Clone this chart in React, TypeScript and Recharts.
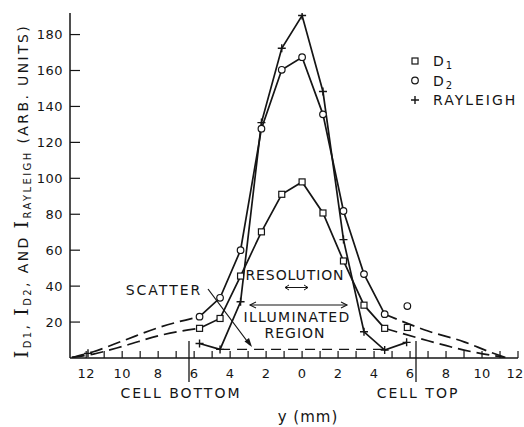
import { ComposedChart, Line, Scatter, XAxis, YAxis, Legend, Customized } from "recharts";

// ---------------------------------------------------------------------------
// Fluorescence (D1, D2) and Rayleigh intensity profiles across the cell,
// redrawn from the scanned figure. Axis is y in mm; labels show |y| on both
// sides of the centre (cell bottom on the left, cell top on the right).
// ---------------------------------------------------------------------------

const INK = "#151515";
const FONT = "'DejaVu Sans', sans-serif";

// measured points (mm across the cell)
const positions = [-5.7, -4.56, -3.42, -2.26, -1.13, 0, 1.16, 2.3, 3.44, 4.59];
const d1Values = [16.5, 22, 45.6, 70.2, 91.1, 98, 80.7, 54, 29.4, 16.5];
const d2Values = [23, 33.5, 60, 127.6, 160.4, 167.4, 135.6, 81.8, 46.7, 24.4];
const rayleighPositions = [...positions, 5.81];
const rayleighValues = [8.1, 4.8, 31.3, 131, 172.4, 190.6, 148.3, 65.9, 14.6, 4.4, 8.7];

// dashed extrapolation out to the cell walls
const leftTailPositions = [-12.8, -11.6, -9.9, -7.9, -5.7];
const d1LeftTail = [0.3, 2.2, 6.7, 12.6, 16.5];
const d2LeftTail = [0.3, 3.5, 9.8, 17.2, 23];
const rightTailPositions = [4.59, 7, 9, 10.4, 11.3];
const d1RightTail = [16.5, 9.6, 4.4, 1.7, 0.3];
const d2RightTail = [24.4, 15, 9, 3.5, 0.3];

// stray points that are not on a curve
const d1Extra = [{ x: 5.85, y: 17 }];
const d2Extra = [{ x: 5.85, y: 28.9 }];
const rayleighExtra = [{ x: -11.9, y: 2.6 }];

// scattered-light floor under the Rayleigh curve
const scatterLevelPositions = [-4.56, 4.56];
const scatterLevelValues = [4.8, 4.8];

const xTicks = Array.from({ length: 25 }, (_, i) => i - 12);
const yTicks = [0, 20, 40, 60, 80, 100, 120, 140, 160, 180];

const zip = (xs: number[], ys: number[]) => xs.map((x, i) => ({ x, y: ys[i] }));

const d1Data = zip(positions, d1Values);
const d2Data = zip(positions, d2Values);
const rayleighData = zip(rayleighPositions, rayleighValues);
const d1Left = zip(leftTailPositions, d1LeftTail);
const d2Left = zip(leftTailPositions, d2LeftTail);
const d1Right = zip(rightTailPositions, d1RightTail);
const d2Right = zip(rightTailPositions, d2RightTail);
const scatterLevel = zip(scatterLevelPositions, scatterLevelValues);

const Square = ({ cx, cy }: any) =>
  cx == null ? null : (
    <rect x={cx - 3} y={cy - 3} width={6} height={6} fill="#fff" stroke={INK} strokeWidth={1.2} />
  );
const Circle = ({ cx, cy }: any) =>
  cx == null ? null : <circle cx={cx} cy={cy} r={3.3} fill="#fff" stroke={INK} strokeWidth={1.2} />;
const Plus = ({ cx, cy }: any) =>
  cx == null ? null : (
    <path d={`M${cx - 4},${cy}H${cx + 4}M${cx},${cy - 4}V${cy + 4}`} stroke={INK} strokeWidth={1.4} />
  );

const dotOf = (Shape: any) => (p: any) => <Shape key={p.index} cx={p.cx} cy={p.cy} />;

function XTick({ x, y, payload }: any) {
  const v = payload.value;
  // keep the last label inside the page edge
  const lx = Math.min(x, 515);
  return (
    <g>
      <line x1={x} x2={x} y1={y} y2={y - 7} stroke={INK} strokeWidth={1.2} />
      {v % 2 === 0 && (
        <text x={lx} y={y + 20} textAnchor="middle" fontSize={13} fontFamily={FONT} fill={INK} letterSpacing={0.3}>
          {Math.abs(v)}
        </text>
      )}
    </g>
  );
}

function YTick({ x, y, payload }: any) {
  if (payload.value === 0) return null;
  return (
    <g>
      <line x1={x} x2={x + 10} y1={y} y2={y} stroke={INK} strokeWidth={1.2} />
      <text x={x - 7} y={y + 4.7} textAnchor="end" fontSize={13} fontFamily={FONT} fill={INK} letterSpacing={0.5}>
        {payload.value}
      </text>
    </g>
  );
}

function LegendBox() {
  const rows = [
    { Shape: Square, label: "D", sub: "1" },
    { Shape: Circle, label: "D", sub: "2" },
    { Shape: Plus, label: "RAYLEIGH", sub: "" },
  ];
  return (
    <svg width={116} height={62}>
      {rows.map((r, i) => {
        const cy = 9 + i * 19.5;
        return (
          <g key={i}>
            <r.Shape cx={7} cy={cy} />
            <text x={25} y={cy + 5} fontSize={14} fontFamily={FONT} fill={INK} letterSpacing={2}>
              {r.label}
              {r.sub && (
                <tspan fontSize={10} dy={3}>
                  {r.sub}
                </tspan>
              )}
            </text>
          </g>
        );
      })}
    </svg>
  );
}

function Annotations() {
  const t = { fontFamily: FONT, fill: INK, fontSize: 14 } as const;
  const sub = { fontSize: 10, dy: 3 } as const;
  return (
    <g>
      {/* y-axis title */}
      <text transform="translate(28,191) rotate(-90)" textAnchor="middle" {...t} letterSpacing={2.4}>
        <tspan fontFamily="'DejaVu Serif', serif" fontSize={19}>I</tspan>
        <tspan {...sub}>D1</tspan>
        <tspan dy={-3}>, </tspan>
        <tspan fontFamily="'DejaVu Serif', serif" fontSize={19}>I</tspan>
        <tspan {...sub}>D2</tspan>
        <tspan dy={-3}>, AND </tspan>
        <tspan fontFamily="'DejaVu Serif', serif" fontSize={19}>I</tspan>
        <tspan {...sub}>RAYLEIGH</tspan>
        <tspan dy={-3}> (ARB. UNITS)</tspan>
      </text>

      {/* cell walls */}
      <line x1={189} x2={189} y1={341} y2={382} stroke={INK} strokeWidth={1.3} />
      <line x1={416} x2={416} y1={341} y2={382} stroke={INK} strokeWidth={1.3} />
      <text x={181} y={398} textAnchor="middle" {...t} letterSpacing={2}>CELL BOTTOM</text>
      <text x={418} y={398} textAnchor="middle" {...t} letterSpacing={2}>CELL TOP</text>
      <text x={308} y={422} textAnchor="middle" {...t} fontSize={15} letterSpacing={1}>y (mm)</text>

      {/* scatter label + arrow */}
      <text x={164} y={295} textAnchor="middle" {...t} letterSpacing={2}>SCATTER</text>
      <line x1={208} y1={289} x2={250} y2={345} stroke={INK} strokeWidth={1.2} />
      <path d="M252,347 L244.5,341.5 L249,338 Z" fill={INK} />

      {/* resolution */}
      <text x={295} y={280} textAnchor="middle" {...t} letterSpacing={0.9}>RESOLUTION</text>
      <line x1={285} x2={308} y1={287.5} y2={287.5} stroke={INK} strokeWidth={1} />
      <path d="M289,285 L285,287.5 L289,290 M304,285 L308,287.5 L304,290" fill="none" stroke={INK} strokeWidth={1} />

      {/* illuminated region */}
      <line x1={250} x2={347} y1={305} y2={305} stroke={INK} strokeWidth={1.1} />
      <path d="M256,302 L250,305 L256,308 M341,302 L347,305 L341,308" fill="none" stroke={INK} strokeWidth={1.1} />
      <text x={297} y={322} textAnchor="middle" {...t} letterSpacing={1.3}>ILLUMINATED</text>
      <text x={295} y={338} textAnchor="middle" {...t} letterSpacing={1}>REGION</text>
    </g>
  );
}

export default function App() {
  const solid = { stroke: INK, strokeWidth: 1.7, isAnimationActive: false, activeDot: false as const, legendType: "none" as const };
  return (
    <div style={{ position: "absolute", left: 0, top: 0, width: 524, height: 427, background: "#fff" }}>
      <ComposedChart width={524} height={427} margin={{ top: 13, right: 6, left: 30, bottom: 39 }}>
        <XAxis
          type="number"
          dataKey="x"
          domain={[-12.9, 12]}
          ticks={xTicks}
          interval={0}
          allowDataOverflow
          height={30}
          axisLine={{ stroke: INK, strokeWidth: 1.5 }}
          tickLine={false}
          tickSize={0}
          tickMargin={0}
          tick={<XTick />}
        />
        <YAxis
          type="number"
          dataKey="y"
          domain={[0, 192]}
          ticks={yTicks}
          interval={0}
          allowDataOverflow
          width={40}
          axisLine={{ stroke: INK, strokeWidth: 1.5 }}
          tickLine={false}
          tickSize={0}
          tickMargin={0}
          tick={<YTick />}
        />

        {/* extrapolated tails */}
        <Line data={d1Left} dataKey="y" type="monotone" {...solid} strokeDasharray="13 6" dot={false} />
        <Line data={d2Left} dataKey="y" type="monotone" {...solid} strokeDasharray="13 6" dot={false} />
        <Line data={d1Right} dataKey="y" type="monotone" {...solid} strokeDasharray="13 6" dot={false} />
        <Line data={d2Right} dataKey="y" type="monotone" {...solid} strokeDasharray="13 6" dot={false} />
        <Line data={scatterLevel} dataKey="y" type="linear" {...solid} strokeWidth={1.3} strokeDasharray="10 7" dot={false} />

        {/* measured profiles */}
        <Line data={rayleighData} dataKey="y" name="RAYLEIGH" type="linear" {...solid} dot={dotOf(Plus)} />
        <Line data={d2Data} dataKey="y" name="D2" type="linear" {...solid} dot={dotOf(Circle)} />
        <Line data={d1Data} dataKey="y" name="D1" type="linear" {...solid} dot={dotOf(Square)} />

        <Scatter data={d1Extra} dataKey="y" isAnimationActive={false} shape={(p: any) => <Square cx={p.cx} cy={p.cy} />} legendType="none" />
        <Scatter data={d2Extra} dataKey="y" isAnimationActive={false} shape={(p: any) => <Circle cx={p.cx} cy={p.cy} />} legendType="none" />
        <Scatter data={rayleighExtra} dataKey="y" isAnimationActive={false} shape={(p: any) => <Plus cx={p.cx} cy={p.cy} />} legendType="none" />

        <Legend
          layout="vertical"
          align="center"
          verticalAlign="middle"
          content={() => <LegendBox />}
          wrapperStyle={{ left: 408, top: 52, width: 116, height: 62 }}
        />
        <Customized component={Annotations} />
      </ComposedChart>
    </div>
  );
}
